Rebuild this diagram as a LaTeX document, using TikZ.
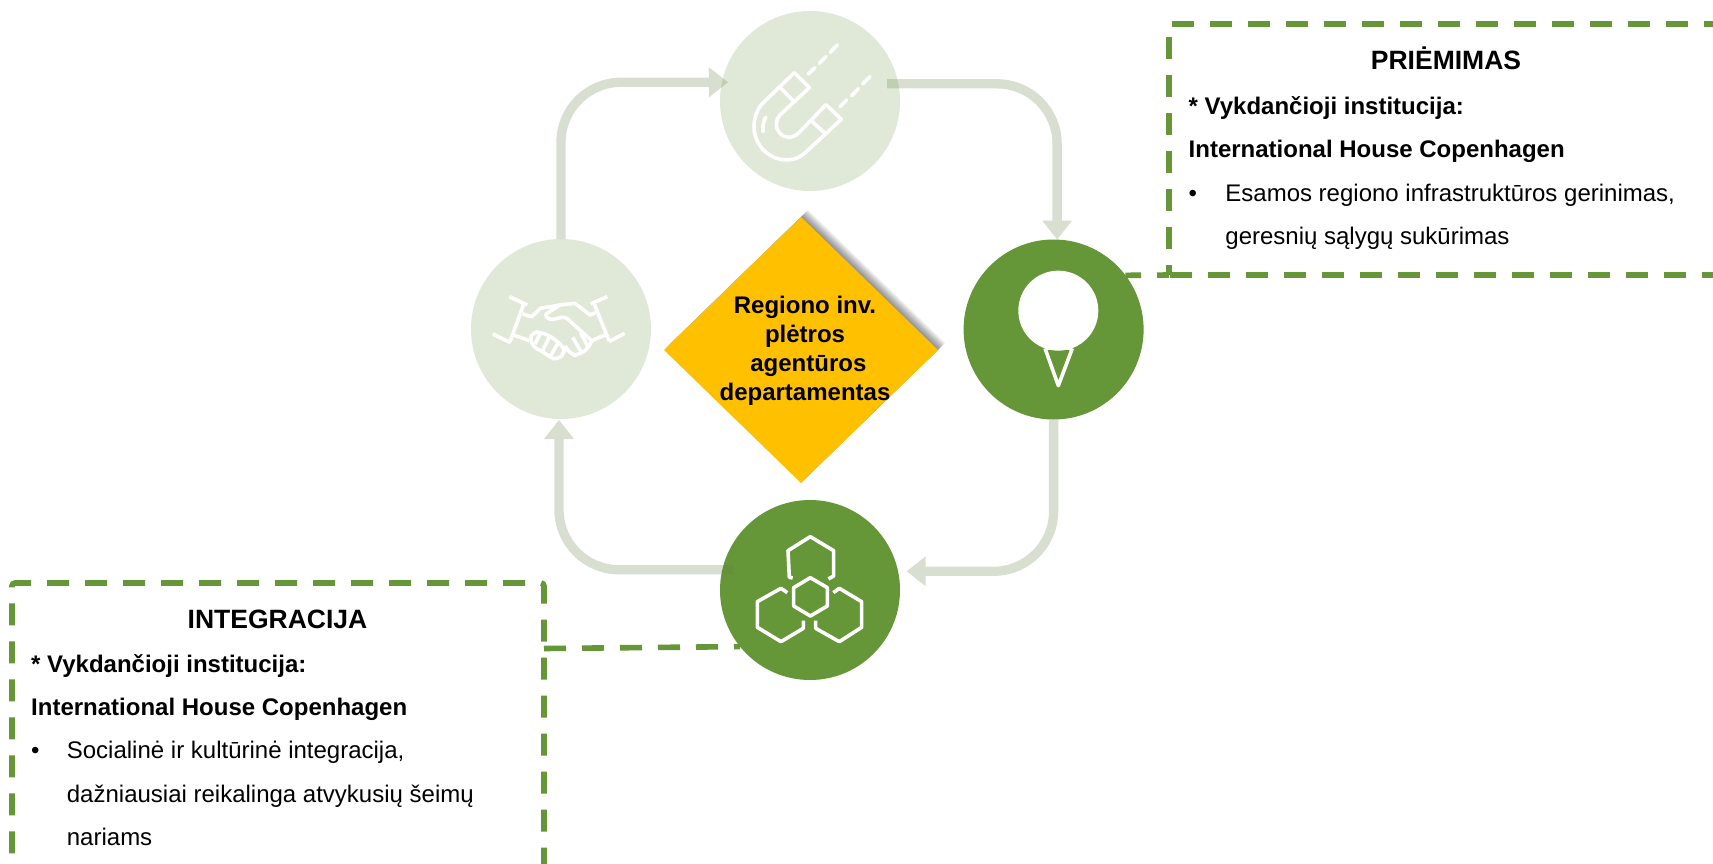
\documentclass[tikz,border=0pt]{standalone}
\usepackage{fontspec}
\setmainfont{Liberation Sans}
\usetikzlibrary{shapes.geometric, arrows.meta}

\definecolor{darkgreen}{HTML}{659637}
\definecolor{palegreen}{HTML}{E0E9D8}
\definecolor{flowgreen}{HTML}{648044}
\definecolor{gold}{HTML}{FFC000}

\tikzset{
	circ/.style={shape=circle, minimum size=180pt, inner sep=0pt, outer sep=0pt},
	flow/.style={line width=9.3pt, draw=flowgreen, opacity=0.25, rounded corners=60pt, arrows=-{Triangle[length=19pt, width=30pt, line width=0pt]}},
	frame/.style={inner sep=0pt, outer sep=0pt, anchor=north west},
	link/.style={draw=darkgreen, line width=5.6pt, dash pattern=on 22pt off 16pt},
	icon/.style={draw=white, line width=3.6pt, line join=round},
	title/.style={font=\bfseries\fontsize{26.5pt}{30pt}\selectfont, anchor=base},
	body/.style={font=\fontsize{24pt}{43.3pt}\selectfont, align=left, anchor=north west, inner sep=0pt},
	gem/.style={shape=diamond, minimum width=274pt, minimum height=266pt, inner sep=0pt, outer sep=0pt}
}

\begin{document}
\begin{tikzpicture}[x=1pt, y=-1pt]

		\clip (0,0) rectangle (1713,864);
		\fill[white] (0,0) rectangle (1713,864);

		\node[circ, fill=palegreen] (magnet) at (810,101) {};
		\node[circ, fill=palegreen] (hands)  at (561,329) {};
		\node[circ, fill=darkgreen] (pin)    at (1053.6,329.5) {};
		\node[circ, fill=darkgreen] (hex)    at (810,590) {};

		\foreach \s in {1,...,7}
			\node[gem, fill=black, fill opacity=0.07] (shade\s) at (801+\s,350-\s) {};
		\node[gem, fill=gold] (dept) at (801,350) {};
		\node[font=\bfseries\fontsize{24pt}{29pt}\selectfont, align=center, inner sep=0pt] (depttext) at (805,350.5) {Regiono inv.\\plėtros\\~agentūros\\departamentas};

		\draw[flow] (hands.north) |- ([xshift=6pt]magnet.168.3);
		\draw[flow] ([xshift=-11.3pt]magnet.11.7) -| ([xshift=3.5pt]pin.north);
		\draw[flow] (pin.south) |- ([xshift=8.7pt]hex.12.2);
		\draw[flow] ([xshift=11pt]hex.167.8) -| ([xshift=-2pt,yshift=-1pt]hands.south);

		\node[frame, minimum width=590.5pt, minimum height=251pt] (priem) at (1169,24) {};
		\draw[link, dash phase=12pt] (priem.south west) -- (priem.north west) -- (priem.north east) -- (priem.south east) -- (priem.south west);
		\node[title] (priemtitle) at (1446,70) {PRIĖMIMAS};
		\node[body] (priemtext) at (1188.5,96.5) {\textbf{* Vykdančioji institucija:}\\\textbf{International House Copenhagen}\\\makebox[36.7pt][l]{•}Esamos regiono infrastruktūros gerinimas,\\\hspace*{36.7pt}geresnių sąlygų sukūrimas};
		\draw[link, dash phase=10pt] (priem.south west) -- (pin.37.3);

		\node[frame, minimum width=532pt, minimum height=308.3pt] (integ) at (12,583) {};
		\draw[link, rounded corners=3pt] (integ.south west) -- (integ.north west) -- (integ.north east) -- (integ.south east);
		\node[title] (integtitle) at (277.5,628.5) {INTEGRACIJA};
		\node[body] (integtext) at (31,654) {\textbf{* Vykdančioji institucija:}\\\textbf{International House Copenhagen}\\\makebox[35.7pt][l]{•}Socialinė ir kultūrinė integracija,\\\hspace*{35.7pt}dažniausiai reikalinga atvykusių šeimų\\\hspace*{35.7pt}nariams};
		\draw[link] ([yshift=-65.5pt]integ.north east) -- (hex.219.3);

		% magnet
		\begin{scope}[shift={(680,0)}, x=0.3333pt, y=-0.3333pt]
			\draw[icon] (343,218) -- (388,263) -- (300,345) .. controls (293,352) and (289,362) .. (289,372) .. controls (289,395) and (306,412) .. (327,412) .. controls (338,412) and (350,405) .. (357,398) -- (438,314) -- (484,358) -- (390,445) .. controls (365,470) and (345,480) .. (322,480) .. controls (265,480) and (222,435) .. (222,378) .. controls (222,355) and (232,325) .. (248,310) -- cycle;
			\draw[icon] (303,265) -- (345,308);
			\draw[icon] (397,365) -- (438,403);
			\draw[icon, line cap=round] (257,352) .. controls (250,365) and (248,380) .. (249,395);
			\draw[icon, line cap=round] (385,222) -- (405,203);
			\draw[icon, line cap=round] (418,190) -- (438,170);
			\draw[icon, line cap=round] (451,157) -- (472,135);
			\draw[icon, line cap=round] (480,320) -- (500,300);
			\draw[icon, line cap=round] (515,287) -- (535,266);
			\draw[icon, line cap=round] (548,252) -- (570,230);
		\end{scope}

		% handshake
		\begin{scope}[shift={(450,220)}, x=0.3333pt, y=-0.3333pt]
			\draw[icon] (178,230) -- (232,255);
			\draw[icon] (222,250) -- (180,365);
			\draw[icon] (128,342) -- (182,368);
			\draw[icon] (472,230) -- (422,252);
			\draw[icon] (432,250) -- (477,362);
			\draw[icon] (524,340) -- (477,365);
			\draw[icon] (218,282) -- (245,290) -- (272,265) -- (330,255) -- (375,250) -- (420,285) -- (437,278);
			\draw[icon, rounded corners=3pt] (330,255) -- (283,285) -- (300,300) -- (345,290) -- (425,362);
			\draw[icon] (190,345) -- (238,362);
			\draw[icon] (465,345) -- (425,362);
			\draw[icon, rounded corners=5pt] (238,358) -- (250,335) -- (272,338) -- (300,347) -- (340,380) -- (345,398) -- (322,420) -- (300,412) -- (280,395) -- (255,385) -- cycle;
			\draw[icon] (272,338) -- (255,372);
			\draw[icon] (300,347) -- (278,392);
			\draw[icon] (325,368) -- (300,410);
			\draw[icon, rounded corners=5pt] (345,378) -- (365,405) -- (385,405) -- (415,385) -- (425,362);
			\draw[icon] (368,352) -- (395,398);
			\draw[icon] (392,338) -- (415,382);
		\end{scope}

		% pin
		\begin{scope}[shift={(940,220)}, x=0.3333pt, y=-0.3333pt]
			\draw[icon] (315,385) -- (355,497) -- (397,385);
			\fill[white] (355,272) circle (40pt);
			\fill[white] (320,380) rectangle (392,390);
		\end{scope}

		% hexagons
		\begin{scope}[shift={(700,490)}, x=0.3333pt, y=-0.3333pt]
			\draw[icon] (331,263) -- (382,293) -- (382,348) -- (331,378) -- (281,348) -- (281,293) -- cycle;
			\draw[icon] (278,264) -- (268,262) -- (264,182) -- (331,140) -- (401,182) -- (401,258) -- (385,267);
			\draw[icon] (262,308) -- (243,295) -- (172,335) -- (172,412) -- (243,455) -- (310,415) -- (310,392);
			\draw[icon] (400,308) -- (418,295) -- (485,335) -- (485,412) -- (418,455) -- (347,415) -- (347,392);
		\end{scope}

	\end{tikzpicture}
\end{document}
